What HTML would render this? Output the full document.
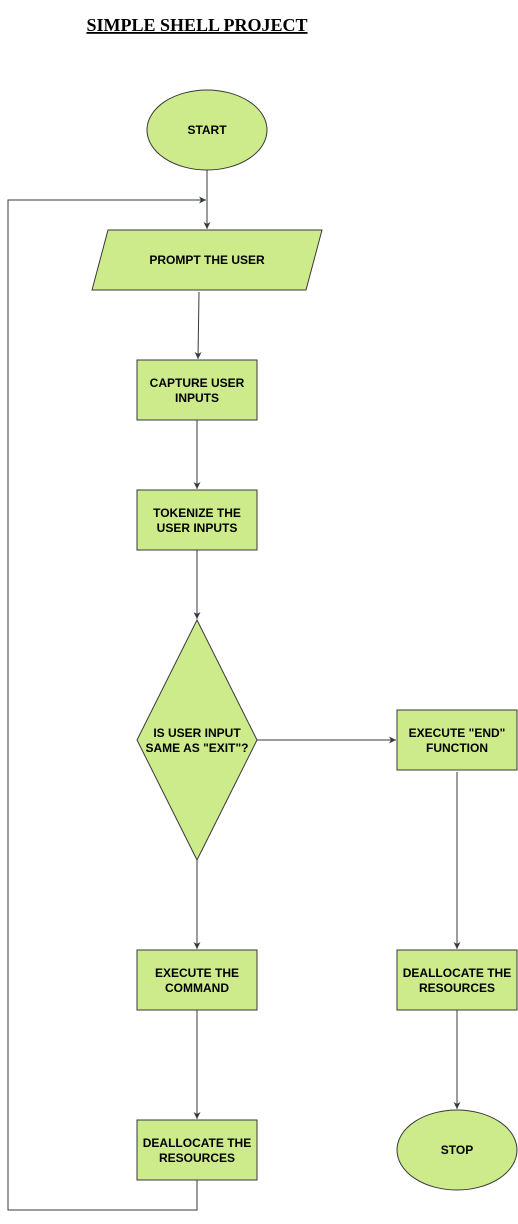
<!DOCTYPE html>
<html><head><meta charset="utf-8"><style>
html,body{margin:0;padding:0;background:#fff;}
</style></head><body>
<svg width="518" height="1219" viewBox="0 0 518 1219" xmlns="http://www.w3.org/2000/svg">
<defs>
<marker id="a" markerWidth="8" markerHeight="8" refX="7" refY="4" orient="auto" markerUnits="userSpaceOnUse">
<path d="M0,0.5 L7,4 L0,7.5 L2,4 Z" fill="#36393d"/>
</marker>
</defs>
<text x="197" y="31" font-family="Liberation Serif, serif" font-weight="bold" font-size="18" text-anchor="middle" text-decoration="underline" fill="#000">SIMPLE SHELL PROJECT</text>
<line x1="197" y1="33" x2="307" y2="33" stroke="none"/>
<g stroke="#36393d" stroke-width="1" fill="none">
<line x1="207" y1="170" x2="207" y2="229" marker-end="url(#a)"/>
<line x1="199" y1="292" x2="198" y2="359" marker-end="url(#a)"/>
<line x1="197" y1="420" x2="197" y2="489" marker-end="url(#a)"/>
<line x1="197" y1="550" x2="197" y2="619" marker-end="url(#a)"/>
<line x1="257" y1="740" x2="396" y2="740" marker-end="url(#a)"/>
<line x1="457" y1="772" x2="457" y2="949" marker-end="url(#a)"/>
<line x1="457" y1="1010" x2="457" y2="1109" marker-end="url(#a)"/>
<line x1="197" y1="860" x2="197" y2="949" marker-end="url(#a)"/>
<line x1="197" y1="1010" x2="197" y2="1119" marker-end="url(#a)"/>
<polyline points="197,1180 197,1210 8,1210 8,200 206,200" marker-end="url(#a)"/>
</g>
<g fill="#cdeb8b" stroke="#36393d" stroke-width="1">
<ellipse cx="207" cy="130" rx="60" ry="40"/>
<polygon points="108,230 322,230 306,290 92,290"/>
<rect x="137" y="360" width="120" height="60"/>
<rect x="137" y="490" width="120" height="60"/>
<polygon points="197,620 257,740 197,860 137,740"/>
<rect x="397" y="710" width="120" height="60"/>
<rect x="397" y="950" width="120" height="60"/>
<ellipse cx="457" cy="1150" rx="60" ry="40"/>
<rect x="137" y="950" width="120" height="60"/>
<rect x="137" y="1120" width="120" height="60"/>
</g>
<g font-family="Liberation Sans, sans-serif" font-weight="bold" font-size="12" text-anchor="middle" fill="#000">
<text x="207" y="134">START</text>
<text x="207" y="264">PROMPT THE USER</text>
<text x="197" y="387">CAPTURE USER</text><text x="197" y="402">INPUTS</text>
<text x="197" y="517">TOKENIZE THE</text><text x="197" y="532">USER INPUTS</text>
<text x="197" y="737">IS USER INPUT</text><text x="197" y="752">SAME AS "EXIT"?</text>
<text x="457" y="737">EXECUTE "END"</text><text x="457" y="752">FUNCTION</text>
<text x="457" y="977">DEALLOCATE THE</text><text x="457" y="992">RESOURCES</text>
<text x="457" y="1154">STOP</text>
<text x="197" y="977">EXECUTE THE</text><text x="197" y="992">COMMAND</text>
<text x="197" y="1147">DEALLOCATE THE</text><text x="197" y="1162">RESOURCES</text>
</g>
</svg>
</body></html>
